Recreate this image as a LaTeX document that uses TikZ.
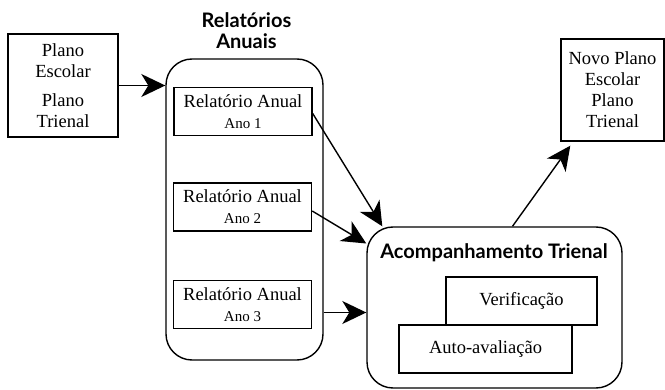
\documentclass[tikz,border=0pt]{standalone}
\usepackage{fontspec}
\setmainfont{Liberation Serif}
\newfontfamily\titlefont{Lato}
\usetikzlibrary{positioning}
\usetikzlibrary{arrows.meta}
\tikzset{
    planbox/.style = {draw, line width=1.4pt, align=center, inner sep=0pt, font=\fontsize{18.5}{21}\selectfont},
    relbox/.style = {draw, line width=1.4pt, align=center, inner sep=0pt, fill=white, minimum width=138pt, minimum height=48pt, font=\fontsize{18.5}{21}\selectfont},
    stepbox/.style = {draw, line width=1.4pt, align=center, inner sep=0pt, fill=white, minimum height=48pt, font=\fontsize{18.5}{21}\selectfont},
    groupbox/.style = {draw, line width=1.4pt, rounded corners=26pt},
    titletext/.style = {font=\titlefont\bfseries\fontsize{20}{21}\selectfont, align=center},
    edgea/.style = {-{Stealth[length=24pt,width=23pt,inset=7pt]}, line width=1.4pt},
}
\newcommand{\relano}[1]{Relatório Anual\\{\fontsize{15}{21}\selectfont Ano #1}}

\begin{document}
\begin{tikzpicture}[x=1pt, y=-1pt]
\useasboundingbox (0,0) rectangle (665,390);
% left plan
\node[planbox, minimum width=110pt, minimum height=103pt] (plan) at (63,85.5)
  {Plano\\Escolar\\[8pt]Plano\\Trienal};
% yearly reports
\node[groupbox, minimum width=157pt, minimum height=301pt] (anuais) at (244.5,209.5) {};
\node[titletext] (anuaistit) at (246.5,31) {Relatórios\\Anuais};
\node[relbox] (ano1) at (243,111.5) {\relano{1}};
\node[relbox] (ano2) at (242.5,207) {\relano{2}};
\node[relbox] (ano3) at (242.5,304.5) {\relano{3}};
% triennial follow-up
\node[groupbox, minimum width=255pt, minimum height=161pt] (acomp) at (494.5,307.5) {};
\node[titletext] (acomptit) at (494,253) {Acompanhamento Trienal};
\node[stepbox, minimum width=151pt] (verif) at (521.5,301) {Verificação};
\node[stepbox, minimum width=173pt] (auto) at (485.5,349) {Auto-avaliação};
% new plan
\node[planbox, minimum width=103pt, minimum height=102pt] (novo) at (612.5,90)
  {Novo Plano\\Escolar\\Plano\\Trienal};
% arrows
\draw[edgea] (plan.east) -- (plan.east -| anuais.west);
\draw[edgea] ([yshift=-2pt]ano1.east) -- ([xshift=16pt]acomp.north west);
\draw[edgea] ([yshift=-4pt]ano2.east) -- ([yshift=64pt]acomp.west);
\draw[edgea] ([yshift=-8pt]ano3.east -| anuais.east) -- ([yshift=-8pt]ano3.east -| acomp.west);
\draw[edgea] ([xshift=18pt]acomp.north) -- ([xshift=10pt,yshift=-4pt]novo.south west);
\end{tikzpicture}
\end{document}
